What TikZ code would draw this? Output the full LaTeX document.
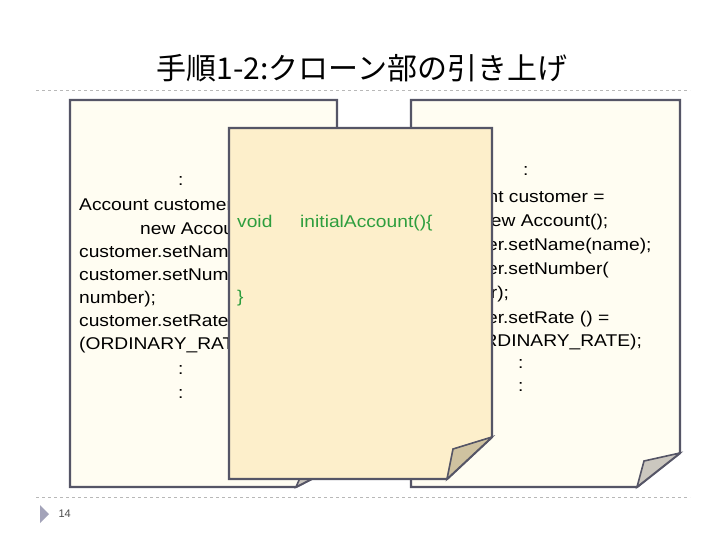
\documentclass[tikz,border=0pt]{standalone}
\usepackage{fontspec}
\setmainfont{Liberation Sans}
\newfontfamily\codefont[FakeStretch=1.13]{Liberation Sans}
\newfontfamily\cjk{Noto Sans CJK JP}
\definecolor{bordc}{HTML}{555566}
\definecolor{paper}{HTML}{FFFDF2}
\definecolor{paperm}{HTML}{FDEFCB}
\definecolor{flapc}{HTML}{CBC7BF}
\definecolor{flapm}{HTML}{CFC2A0}
\definecolor{codegreen}{HTML}{2E9E3E}
\definecolor{dashc}{HTML}{B8B8B8}
\begin{document}
\begin{tikzpicture}[x=1pt,y=-1pt,
  doc/.style={draw=bordc,line width=2.4pt,line join=miter},
  flap/.style={draw=bordc,line width=1.6pt},
  code/.style={anchor=base west,inner sep=0pt,font=\codefont\fontsize{17}{19}\selectfont},
  gcode/.style={code,text=codegreen},
  sep/.style={draw=dashc,dashed,line width=0.8pt}]
\useasboundingbox (0,0) rectangle (720,540);
\fill[white] (0,0) rectangle (720,540);
\node[font=\cjk\fontsize{30}{34}\selectfont] (title) at (362,68) {手順1-2:クローン部の引き上げ};
\coordinate (s1a) at (36,90); \coordinate (s1b) at (690,90);
\draw[sep] (s1a) -- (s1b);
\coordinate (s2a) at (36,497); \coordinate (s2b) at (690,497);
\draw[sep] (s2a) -- (s2b);
\fill[black!30!blue!20!gray!60] (40,505) -- (49,514) -- (40,523) -- cycle;
\node[anchor=west,font=\fontsize{11}{12}\selectfont,text=black!70] (pg) at (55,514) {14};
% left document
\draw[doc,fill=paper] (70,100) -- (337,100) -- (337,466) -- (296,487) -- (70,487) -- cycle;
\draw[flap,fill=flapc] (296,487) -- (303,471) -- (337,466) -- cycle;
\node[code] (l0) at (178,186) {:};
\node[code] (l1) at (79,211) {Account customer =};
\node[code] (l2) at (140,234) {new Account();};
\node[code] (l3) at (79,257) {customer.setName(name);};
\node[code] (l4) at (79,280) {customer.setNumber(};
\node[code] (l5) at (79,303) {number);};
\node[code] (l6) at (79,326) {customer.setRate () =};
\node[code] (l7) at (79,349) {(ORDINARY\_RATE);};
\node[code] (l8) at (178,374) {:};
\node[code] (l9) at (178,398) {:};
% right document
\draw[doc,fill=paper] (411,100) -- (680,100) -- (680,453) -- (637,487) -- (411,487) -- cycle;
\draw[flap,fill=flapc] (637,487) -- (644,461) -- (680,453) -- cycle;
\node[code] (r0) at (523,176) {:};
\node[code] (r1) at (434,203) {Account customer =};
\node[code] (r2) at (480,226) {new Account();};
\node[code] (r3) at (425,251) {customer.setName(name);};
\node[code] (r4) at (425,274) {customer.setNumber(};
\node[code] (r5) at (432,298) {number);};
\node[code] (r6) at (425,323) {customer.setRate () =};
\node[code] (r7) at (462,346) {(ORDINARY\_RATE);};
\node[code] (r8) at (518,368) {:};
\node[code] (r9) at (518,391) {:};
% middle document
\draw[doc,fill=paperm] (229,128) -- (492,128) -- (492,437) -- (447,479) -- (229,479) -- cycle;
\draw[flap,fill=flapm] (447,479) -- (453,449) -- (492,437) -- cycle;
\node[gcode] (m1) at (237,228) {void};
\node[gcode] (m2) at (300,228) {initialAccount()\{};
\node[gcode] (m3) at (237,302) {\}};
\end{tikzpicture}
\end{document}
